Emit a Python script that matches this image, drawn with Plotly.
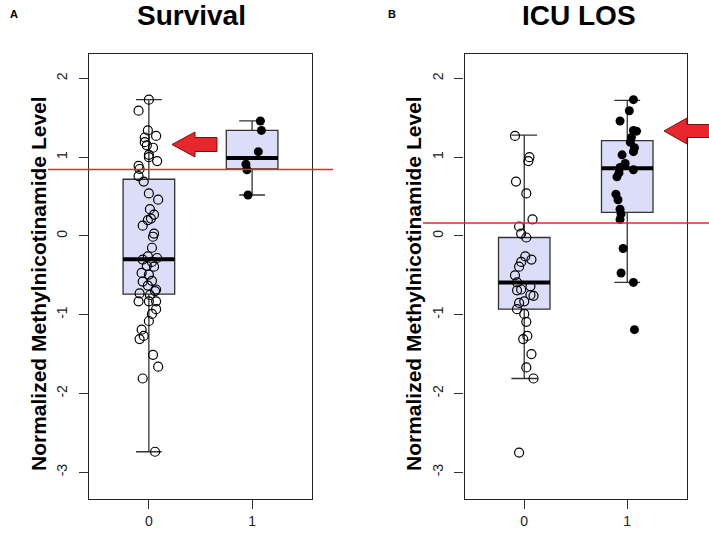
import plotly.graph_objects as go

W, H = 709, 538

# ---------------- data ----------------
groups = [0, 1]
tick_vals_y = [-3, -2, -1, 0, 1, 2]

# Panel A: Survival
surv_q1 = [-0.74, 0.85]
surv_median = [-0.295, 0.99]
surv_q3 = [0.72, 1.34]
surv_lo = [-2.74, 0.52]
surv_hi = [1.73, 1.46]
surv_threshold = 0.845

surv_g0_vals = [1.73, 1.59, 1.34, 1.27, 1.25, 1.19, 1.15, 1.12, 1.03, 1.00, 0.95, 0.89,
                0.85, 0.76, 0.69, 0.54, 0.46, 0.34, 0.27, 0.22, 0.20, 0.13, 0.03, -0.01,
                -0.15, -0.26, -0.28, -0.30, -0.33, -0.38, -0.39, -0.47, -0.49, -0.57,
                -0.58, -0.63, -0.68, -0.70, -0.73, -0.75, -0.83, -0.83, -0.83, -0.93,
                -0.99, -1.08, -1.19, -1.27, -1.31, -1.51, -1.66, -1.81, -2.74]
surv_g0_jit = [0.00, -0.10, -0.01, 0.07, -0.04, -0.04, -0.02, 0.04, 0.00, 0.00, 0.08, -0.10,
               -0.09, -0.10, -0.05, 0.00, 0.09, 0.01, 0.05, 0.02, -0.01, -0.06, 0.05, 0.04,
               0.03, -0.01, 0.08, -0.06, 0.03, -0.02, 0.05, -0.07, 0.00, 0.03,
               -0.06, -0.01, 0.07, 0.06, -0.09, 0.01, -0.10, 0.00, 0.07, 0.07,
               0.03, 0.00, -0.07, -0.05, -0.09, 0.04, 0.09, -0.06, 0.06]
surv_g1_vals = [1.46, 1.34, 1.07, 0.91, 0.84, 0.52]
surv_g1_jit = [0.08, 0.09, 0.06, -0.06, -0.05, -0.04]

# Panel B: ICU LOS
icu_q1 = [-0.93, 0.30]
icu_median = [-0.59, 0.86]
icu_q3 = [-0.02, 1.21]
icu_lo = [-1.81, -0.59]
icu_hi = [1.28, 1.72]
icu_threshold = 0.165

icu_g0_vals = [1.27, 1.00, 0.95, 0.69, 0.54, 0.21, 0.12, 0.03, -0.02, -0.26, -0.30, -0.33,
               -0.39, -0.50, -0.59, -0.64, -0.68, -0.69, -0.75, -0.76, -0.83, -0.85,
               -0.93, -0.99, -1.09, -1.27, -1.31, -1.50, -1.67, -1.81, -2.75]
icu_g0_jit = [-0.09, 0.05, 0.04, -0.08, 0.02, 0.08, -0.05, -0.03, 0.02, 0.01, 0.07, -0.03,
              -0.05, -0.09, -0.07, 0.06, -0.03, -0.07, 0.06, 0.09, 0.00, -0.05,
              -0.07, 0.00, 0.02, 0.03, -0.01, 0.07, 0.02, 0.09, -0.05]
icu_g1_vals = [1.73, 1.59, 1.46, 1.34, 1.33, 1.25, 1.19, 1.12, 1.07, 1.03, 0.92, 0.87,
               0.84, 0.80, 0.75, 0.53, 0.46, 0.34, 0.28, 0.21, -0.16, -0.47, -0.59, -1.19]
icu_g1_jit = [0.06, 0.02, -0.07, 0.06, 0.09, 0.04, 0.03, 0.07, 0.06, -0.05, -0.02, -0.07,
              0.06, -0.08, -0.10, -0.11, -0.09, -0.07, -0.06, -0.07, -0.04, -0.06, 0.06, 0.07]

titles = ["Survival", "ICU LOS"]
panel_letters = ["A", "B"]
ytitle = "Normalized Methylnicotinamide Level"

# ---------------- style ----------------
FONT = "Liberation Sans"
BOX_FILL = "#DCDDF9"
BOX_LINE = "#333333"
BOX_W = 0.5
RED = "#E8262B"

fig = go.Figure()

def px_x(v):
    return v / W

def px_y(v):
    return 1 - v / H

def add_panel(xa, ya, q1, med, q3, lo, hi, g0v, g0j, g1v, g1j):
    fig.add_trace(go.Box(
        x=groups, q1=q1, median=med, q3=q3, lowerfence=lo, upperfence=hi,
        width=BOX_W, whiskerwidth=0.5, fillcolor=BOX_FILL,
        line=dict(color=BOX_LINE, width=1.3), boxpoints=False,
        xaxis=xa, yaxis=ya, showlegend=False, hoverinfo="skip"))
    for g, m in zip(groups, med):
        fig.add_trace(go.Scatter(
            x=[g - BOX_W / 2, g + BOX_W / 2], y=[m, m], mode="lines",
            line=dict(color="black", width=4), xaxis=xa, yaxis=ya,
            showlegend=False, hoverinfo="skip"))
    fig.add_trace(go.Scatter(
        x=[groups[0] + j for j in g0j], y=g0v, mode="markers",
        marker=dict(symbol="circle-open", size=9, color="black", line=dict(width=1.2)),
        xaxis=xa, yaxis=ya, showlegend=False, hoverinfo="skip"))
    fig.add_trace(go.Scatter(
        x=[groups[1] + j for j in g1j], y=g1v, mode="markers",
        marker=dict(symbol="circle", size=9, color="black"),
        xaxis=xa, yaxis=ya, showlegend=False, hoverinfo="skip"))

add_panel("x", "y", surv_q1, surv_median, surv_q3, surv_lo, surv_hi,
          surv_g0_vals, surv_g0_jit, surv_g1_vals, surv_g1_jit)
add_panel("x2", "y2", icu_q1, icu_median, icu_q3, icu_lo, icu_hi,
          icu_g0_vals, icu_g0_jit, icu_g1_vals, icu_g1_jit)

xaxis_common = dict(range=[-0.58, 1.58], tickvals=groups, ticktext=[str(g) for g in groups],
                    showline=True, mirror=True, linecolor="#222", linewidth=1.2,
                    ticks="outside", ticklen=9, tickcolor="#333", tickwidth=1.2,
                    showgrid=False, zeroline=False,
                    tickfont=dict(family=FONT, size=14, color="#222"))
yaxis_common = dict(range=[-3.34, 2.31], tickvals=tick_vals_y,
                    ticktext=[str(v) for v in tick_vals_y], tickangle=-90,
                    showline=True, mirror=True, linecolor="#222", linewidth=1.2,
                    ticks="outside", ticklen=9, tickcolor="#333", tickwidth=1.2,
                    ticklabelstandoff=6,
                    showgrid=False, zeroline=False,
                    tickfont=dict(family=FONT, size=14, color="#222"))

ydom = [px_y(499), px_y(54)]
fig.update_layout(
    width=W, height=H, margin=dict(l=0, r=0, t=0, b=0),
    paper_bgcolor="white", plot_bgcolor="white",
    xaxis=dict(domain=[px_x(89), px_x(312)], anchor="y", **xaxis_common),
    yaxis=dict(domain=ydom, anchor="x", **yaxis_common),
    xaxis2=dict(domain=[px_x(464.5), px_x(687)], anchor="y2", **xaxis_common),
    yaxis2=dict(domain=ydom, anchor="x2", **yaxis_common),
)

# threshold lines
shapes = [
    dict(type="line", xref="paper", yref="y", x0=px_x(48), x1=px_x(333),
         y0=surv_threshold, y1=surv_threshold, line=dict(color=RED, width=1.5)),
    dict(type="line", xref="paper", yref="y2", x0=px_x(423), x1=1.0,
         y0=icu_threshold, y1=icu_threshold, line=dict(color=RED, width=1.5)),
]

def arrow_path(tip_x, cy, head_base_x, tail_x, head_half, shaft_half):
    pts = [(tip_x, cy), (head_base_x, cy - head_half), (head_base_x, cy - shaft_half),
           (tail_x, cy - shaft_half), (tail_x, cy + shaft_half), (head_base_x, cy + shaft_half),
           (head_base_x, cy + head_half)]
    return "M " + " L ".join(f"{px_x(a):.5f},{px_y(b):.5f}" for a, b in pts) + " Z"

shapes.append(dict(type="path", xref="paper", yref="paper",
                   path=arrow_path(172, 144.5, 195, 217, 12.5, 7),
                   fillcolor=RED, line=dict(color="#6b1515", width=1)))
shapes.append(dict(type="path", xref="paper", yref="paper",
                   path=arrow_path(664, 131, 687, 712, 13, 6.5),
                   fillcolor=RED, line=dict(color="#6b1515", width=1)))
fig.update_layout(shapes=shapes)

def ann(text, x, y, size, angle=0):
    return dict(text=text, x=px_x(x), y=px_y(y), xref="paper", yref="paper",
                xanchor="center", yanchor="middle", showarrow=False, textangle=angle,
                font=dict(family=FONT, size=size, color="black"))

annotations = [
    ann(f"<b>{titles[0]}</b>", 191, 15, 28),
    ann(f"<b>{titles[1]}</b>", 579, 15, 28),
    ann(f"<b>{panel_letters[0]}</b>", 14, 14, 11),
    ann(f"<b>{panel_letters[1]}</b>", 392, 14, 11),
    ann(f"<b>{ytitle}</b>", 38, 284, 21, -90),
    ann(f"<b>{ytitle}</b>", 413, 284, 21, -90),
]
fig.update_layout(annotations=annotations)

fig.write_html("out.html", config={"displayModeBar": False},
               post_script="document.body.style.margin='0';")
